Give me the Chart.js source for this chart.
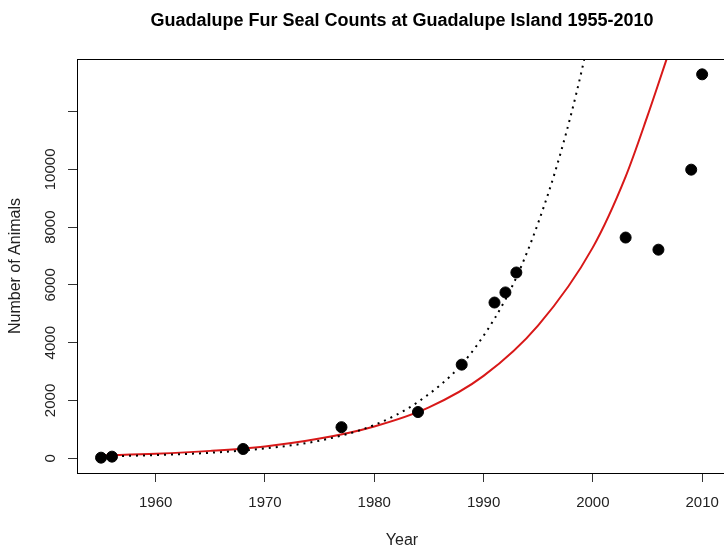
<!DOCTYPE html>
<html lang="en">
<head>
  <meta charset="UTF-8">
  <title>Guadalupe Fur Seal Counts</title>
  <script src="https://cdn.jsdelivr.net/npm/chart.js"></script>
  <style>
    html, body { margin: 0; padding: 0; overflow: hidden; background: #fff; }
    canvas { display: block; }
  </style>
</head>
<body>
  <canvas id="grafico" width="724" height="549"></canvas>

  <script>
    // observed counts
    const years = [1955, 1956, 1968, 1977, 1984, 1988, 1991, 1992, 1993, 2003, 2006, 2009, 2010];
    const counts = [20, 55, 320, 1075, 1600, 3240, 5390, 5740, 6430, 7640, 7220, 9990, 13290];

    // dotted curve
    const dotYears = [1955, 1960, 1965, 1970, 1975, 1980, 1984, 1988, 1991, 1993, 1995, 1997, 1999, 2000];
    const dotVals = [60, 110, 190, 340, 610, 1150, 1950, 3250, 4830, 6260, 8150, 10500, 13450, 15300];

    // red curve
    const redYears = [1955, 1960, 1965, 1970, 1975, 1980, 1985, 1990, 1995, 2000, 2003, 2005, 2007];
    const redVals = [95, 155, 255, 410, 680, 1100, 1760, 2850, 4600, 7300, 9750, 11850, 14100];

    // axis ticks
    const xTicks = [1960, 1970, 1980, 1990, 2000, 2010];
    const yTicks = [0, 2000, 4000, 6000, 8000, 10000, 12000];
    const yLabels = ['0', '2000', '4000', '6000', '8000', '10000', ''];

    const fuente = '"Liberation Sans", Arial, sans-serif';

    function pares(xs, ys) {
      return xs.map((x, i) => ({ x: x, y: ys[i] }));
    }

    // box, rotated y labels and titles, drawn like R base graphics
    const marcoR = {
      id: 'marcoR',
      afterDraw(chart) {
        const ctx = chart.ctx;
        const a = chart.chartArea;
        const ys = chart.scales.y;
        ctx.save();
        ctx.strokeStyle = '#000';
        ctx.lineWidth = 1;
        // the right edge of the box falls just outside the picture
        ctx.strokeRect(Math.round(a.left) + 0.5, Math.round(a.top) + 0.5,
          Math.round(a.right - a.left) + 4, Math.round(a.bottom - a.top));

        ctx.fillStyle = '#222';
        ctx.font = '15px ' + fuente;
        ctx.textAlign = 'center';
        ctx.textBaseline = 'middle';
        yTicks.forEach((v, i) => {
          if (!yLabels[i]) return;
          const py = ys.getPixelForValue(v);
          ctx.save();
          ctx.translate(51, py);
          ctx.rotate(-Math.PI / 2);
          ctx.fillText(yLabels[i], 0, 0);
          ctx.restore();
        });

        ctx.font = '16px ' + fuente;
        ctx.save();
        ctx.translate(16, (a.top + a.bottom) / 2);
        ctx.rotate(-Math.PI / 2);
        ctx.fillText('Number of Animals', 0, 0);
        ctx.restore();

        const cx = 402;
        ctx.fillText('Year', cx, 541);

        ctx.fillStyle = '#000';
        ctx.font = 'bold 18px ' + fuente;
        ctx.fillText('Guadalupe Fur Seal Counts at Guadalupe Island 1955-2010', cx, 21);
        ctx.restore();
      }
    };

    const ctx = document.getElementById('grafico').getContext('2d');
    const grafico = new Chart(ctx, {
      type: 'scatter',
      data: {
        datasets: [
          {
            label: 'Counts',
            data: pares(years, counts),
            backgroundColor: '#000',
            borderColor: '#000',
            pointRadius: 5.5,
            pointHoverRadius: 5.5
          },
          {
            label: 'Dotted',
            data: pares(dotYears, dotVals),
            showLine: true,
            borderColor: '#000',
            borderWidth: 2,
            borderDash: [2, 5],
            pointRadius: 0,
            cubicInterpolationMode: 'monotone'
          },
          {
            label: 'Red',
            data: pares(redYears, redVals),
            showLine: true,
            borderColor: '#d81818',
            borderWidth: 2,
            pointRadius: 0,
            cubicInterpolationMode: 'monotone'
          }
        ]
      },
      options: {
        responsive: false,
        animation: false,
        devicePixelRatio: 1,
        layout: { autoPadding: false, padding: { left: 0, top: 59, right: 0, bottom: 0 } },
        plugins: {
          legend: { display: false },
          title: { display: false },
          tooltip: { enabled: false }
        },
        scales: {
          x: {
            type: 'linear',
            min: 1952.8,
            max: 2012.0,
            afterBuildTicks: s => { s.ticks = xTicks.map(v => ({ value: v })); },
            afterFit: s => {
              s.height = 549 - 473;
              s.paddingLeft = 0;
              s.paddingRight = 0;
            },
            grid: { drawOnChartArea: false, drawTicks: true, tickLength: 9, tickColor: '#333' },
            border: { display: true, color: '#000', width: 1 },
            ticks: {
              color: '#222',
              font: { family: fuente, size: 15 },
              padding: 12,
              maxRotation: 0,
              callback: v => String(v)
            }
          },
          y: {
            type: 'linear',
            min: -511,
            max: 13821,
            afterBuildTicks: s => { s.ticks = yTicks.map(v => ({ value: v })); },
            afterFit: s => {
              s.width = 77;
              s.paddingTop = 0;
              s.paddingBottom = 0;
            },
            grid: { drawOnChartArea: false, drawTicks: true, tickLength: 9, tickColor: '#333' },
            border: { display: true, color: '#000', width: 1 },
            ticks: { display: false }
          }
        }
      },
      plugins: [marcoR]
    });
  </script>
</body>
</html>
